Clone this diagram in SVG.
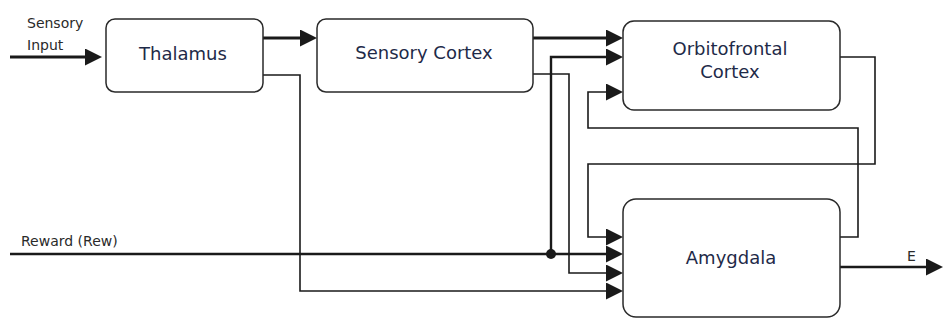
<svg xmlns="http://www.w3.org/2000/svg" width="943" height="320" viewBox="0 0 943 320">
<style>
.box{fill:#fff;stroke:#2a2a2a;stroke-width:1.5}
.lbl{font-family:"DejaVu Sans",sans-serif;font-size:18px;fill:#1e2a48;text-anchor:middle}
.sm{font-family:"DejaVu Sans",sans-serif;font-size:14px;fill:#2a2a2a}
.c{fill:none;stroke:#1a1a1a;stroke-linejoin:miter;marker-end:url(#ah)}
.thick{stroke-width:3}
.med{stroke-width:2.4}
.thin{stroke-width:1.6}
</style>
<defs>
<marker id="ah" markerUnits="userSpaceOnUse" markerWidth="17" markerHeight="17" refX="9" refY="8.5" orient="auto">
<path d="M0,0 L17,8.5 L0,17 z" fill="#1a1a1a"/>
</marker>
</defs>
<g id="connectors">
<path class="c thick" d="M10,57 H94"/>
<path class="c thick" d="M263,38 H309"/>
<path class="c thin" d="M263,75 H300 V291 H615"/>
<path class="c thick" d="M533,38 H615"/>
<path class="c thin" d="M533,74 H569 V273 H615"/>
<path class="c med" d="M10,254 H615"/>
<path class="c med" d="M551,254 V57 H615"/>
<circle cx="551" cy="254" r="5" fill="#1a1a1a"/>
<path class="c thin" d="M840,57 H875 V164 H588 V237 H615"/>
<path class="c thin" d="M840,237 H858 V128 H588 V92 H615"/>
<path class="c med" d="M840,267 H935"/>
</g>
<g id="thalamus">
<rect class="box" x="106" y="19" width="157" height="73" rx="9"/>
<text class="lbl" x="183" y="60">Thalamus</text>
</g>
<g id="sensory-cortex">
<rect class="box" x="317" y="19" width="216" height="73" rx="9"/>
<text class="lbl" x="424" y="59">Sensory Cortex</text>
</g>
<g id="orbitofrontal-cortex">
<rect class="box" x="623" y="21" width="217" height="89" rx="11"/>
<text class="lbl" x="730" y="55">Orbitofrontal</text>
<text class="lbl" x="730" y="78">Cortex</text>
</g>
<g id="amygdala">
<rect class="box" x="623" y="199" width="217" height="118" rx="13"/>
<text class="lbl" x="731" y="264">Amygdala</text>
</g>
<g id="labels">
<text class="sm" x="27" y="28">Sensory</text>
<text class="sm" x="27" y="50">Input</text>
<text class="sm" x="21" y="246">Reward (Rew)</text>
<text class="sm" x="907" y="261">E</text>
</g>
</svg>
